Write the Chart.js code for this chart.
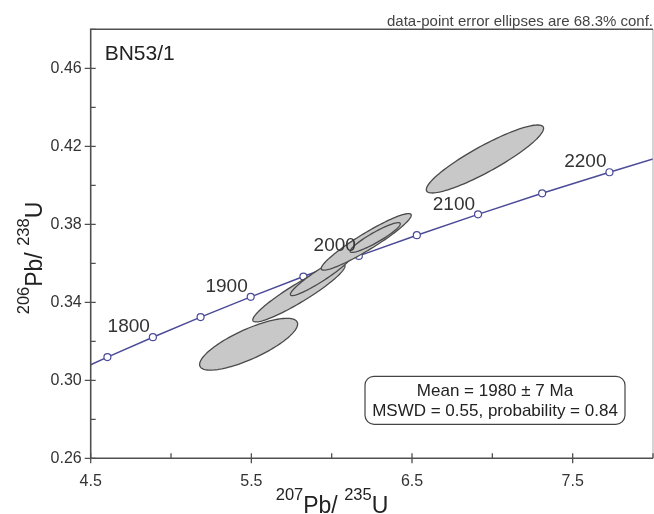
<!DOCTYPE html>
<html>
<head>
<meta charset="utf-8">
<script src="https://cdn.jsdelivr.net/npm/chart.js@4.4.0/dist/chart.umd.min.js"></script>
<style>
  html, body { margin: 0; padding: 0; background: #fff; }
  #wrap { width: 654px; height: 514px; }
</style>
</head>
<body>
<div id="wrap"><canvas id="chart" width="654" height="514"></canvas></div>
<script>
// concordia, marked every 50 Ma (first and last entries are where it leaves the frame)
const concAges = [1731, 1750, 1800, 1850, 1900, 1950, 2000, 2050, 2100, 2150, 2200, 2231];
const concX = [4.500, 4.604, 4.887, 5.184, 5.496, 5.824, 6.169, 6.530, 6.911, 7.310, 7.729, 8.000];
const concY = [0.3080, 0.3119, 0.3221, 0.3324, 0.3428, 0.3532, 0.3638, 0.3744, 0.3851, 0.3959, 0.4067, 0.4135];
const concLabels = [1800, 1900, 2000, 2100, 2200];

// data-point error ellipses: centre, half extent in x / y, error correlation
const ellX = [5.483, 5.796, 5.935, 6.215, 6.271, 6.954];
const ellY = [0.3185, 0.3448, 0.3540, 0.3710, 0.3732, 0.4135];
const ellSX = [0.305, 0.287, 0.192, 0.280, 0.156, 0.365];
const ellSY = [0.01328, 0.01487, 0.01056, 0.01450, 0.00764, 0.01744];
const ellRho = [0.78, 0.93, 0.94, 0.94, 0.92, 0.90];

// axes
const xMin = 4.5, xMax = 8.0, xStep = 0.5;
const yMin = 0.26, yMax = 0.48, yStep = 0.02;

const sampleName = "BN53/1";
const noteText = "data-point error ellipses are 68.3% conf.";
const meanLines = ["Mean = 1980 \u00b1 7 Ma", "MSWD = 0.55, probability = 0.84"];
const xTitle = [["207", true], ["Pb/ ", false], ["235", true], ["U", false]];
const yTitle = [["206", true], ["Pb/ ", false], ["238", true], ["U", false]];

const FONT = "'Liberation Sans', Arial, Helvetica, sans-serif";
const LINE = "#4b4b98";

function isMajor(v, min, step) {
  return Math.round((v - min) / step) % 2 === 0;
}

function drawTitle(ctx, parts, cx, baseY) {
  const mainFont = "23px " + FONT, supFont = "16.5px " + FONT;
  let total = 0;
  parts.forEach(([t, sup]) => {
    ctx.font = sup ? supFont : mainFont;
    total += ctx.measureText(t).width;
  });
  let x = cx - total / 2;
  parts.forEach(([t, sup]) => {
    ctx.font = sup ? supFont : mainFont;
    ctx.fillText(t, x, sup ? baseY - 13 : baseY);
    x += ctx.measureText(t).width;
  });
}

const isoplotPlugin = {
  id: "isoplot",
  afterDatasetsDraw(chart) {
    const { ctx, chartArea: a, scales: { x: xs, y: ys } } = chart;
    ctx.save();
    ctx.beginPath();
    ctx.rect(a.left, a.top, a.right - a.left, a.bottom - a.top);
    ctx.clip();
    ellX.forEach((cx, i) => {
      const s = Math.sqrt(1 - ellRho[i] * ellRho[i]);
      ctx.beginPath();
      for (let k = 0; k <= 120; k++) {
        const t = (k / 120) * Math.PI * 2;
        const px = xs.getPixelForValue(cx + ellSX[i] * Math.cos(t));
        const py = ys.getPixelForValue(ellY[i] + ellSY[i] * (ellRho[i] * Math.cos(t) + s * Math.sin(t)));
        if (k === 0) ctx.moveTo(px, py); else ctx.lineTo(px, py);
      }
      ctx.closePath();
      ctx.fillStyle = "#c8c8c8";
      ctx.fill();
      ctx.strokeStyle = "#4a4a4a";
      ctx.lineWidth = 1.3;
      ctx.stroke();
    });
    ctx.restore();
  },
  afterDraw(chart) {
    const { ctx, chartArea: a, scales: { x: xs, y: ys } } = chart;
    ctx.save();

    // frame
    ctx.strokeStyle = "#aaa";
    ctx.lineWidth = 1;
    ctx.beginPath();
    ctx.moveTo(a.right, a.top);
    ctx.lineTo(a.right, a.bottom);
    ctx.stroke();
    ctx.strokeStyle = "#505050";
    ctx.lineWidth = 1.6;
    ctx.beginPath();
    ctx.moveTo(a.right, a.top);
    ctx.lineTo(a.left, a.top);
    ctx.lineTo(a.left, a.bottom);
    ctx.lineTo(a.right, a.bottom);
    ctx.stroke();

    // tick marks: major ones cross the axis, minor ones point inward
    ctx.lineWidth = 1.3;
    ctx.beginPath();
    xs.ticks.forEach(t => {
      const px = xs.getPixelForValue(t.value);
      const major = isMajor(t.value, xMin, xStep);
      ctx.moveTo(px, a.bottom - 5);
      ctx.lineTo(px, major ? a.bottom + 5 : a.bottom);
    });
    ys.ticks.forEach(t => {
      const py = ys.getPixelForValue(t.value);
      const major = isMajor(t.value, yMin, yStep);
      ctx.moveTo(a.left + 5, py);
      ctx.lineTo(major ? a.left - 6 : a.left, py);
    });
    ctx.stroke();

    // concordia age labels
    ctx.fillStyle = "#333";
    ctx.font = "19px " + FONT;
    ctx.textAlign = "right";
    ctx.textBaseline = "middle";
    concLabels.forEach(age => {
      const i = concAges.indexOf(age);
      const px = xs.getPixelForValue(concX[i]);
      const py = ys.getPixelForValue(concY[i]);
      ctx.fillText(String(age), px - 3, py - 10);
    });

    // note above the frame and sample name
    ctx.textBaseline = "alphabetic";
    ctx.fillStyle = "#444";
    ctx.font = "15px " + FONT;
    ctx.fillText(noteText, a.right, a.top - 3);
    ctx.textAlign = "left";
    ctx.fillStyle = "#222";
    ctx.font = "21px " + FONT;
    ctx.fillText(sampleName, a.left + 14, a.top + 31);

    // mean box
    const bw = 260, bh = 48;
    const bx = a.right - 28 - bw, by = a.bottom - 34 - bh;
    ctx.beginPath();
    ctx.roundRect(bx, by, bw, bh, 9);
    ctx.fillStyle = "#fff";
    ctx.fill();
    ctx.strokeStyle = "#444";
    ctx.lineWidth = 1.2;
    ctx.stroke();
    ctx.fillStyle = "#222";
    ctx.font = "17px " + FONT;
    ctx.textAlign = "center";
    ctx.textBaseline = "middle";
    ctx.fillText(meanLines[0], bx + bw / 2, by + 15);
    ctx.fillText(meanLines[1], bx + bw / 2, by + 35);

    // axis titles with superscripts
    ctx.textAlign = "left";
    ctx.textBaseline = "alphabetic";
    ctx.fillStyle = "#222";
    drawTitle(ctx, xTitle, 332, 513);
    ctx.translate(42, 258);
    ctx.rotate(-Math.PI / 2);
    drawTitle(ctx, yTitle, 0, 0);
    ctx.restore();
  }
};

const tickFont = { family: FONT, size: 16 };

new Chart(document.getElementById("chart"), {
  type: "scatter",
  data: {
    datasets: [{
      data: concX.map((x, i) => ({ x: x, y: concY[i] })),
      showLine: true,
      borderColor: LINE,
      borderWidth: 1.5,
      pointRadius: concAges.map(a => (a % 50 === 0 ? 3.5 : 0)),
      pointBackgroundColor: "#fff",
      pointBorderColor: LINE,
      pointBorderWidth: 1.2,
      tension: 0,
    }],
  },
  options: {
    responsive: false,
    animation: false,
    layout: { autoPadding: false, padding: { left: 0, top: 29.3, right: 1, bottom: 0 } },
    plugins: { legend: { display: false }, tooltip: { enabled: false } },
    scales: {
      x: {
        type: "linear",
        min: xMin,
        max: xMax,
        grid: { display: false, drawTicks: false },
        border: { display: false },
        ticks: {
          stepSize: xStep,
          autoSkip: false,
          maxRotation: 0,
          padding: 14,
          color: "#333",
          font: tickFont,
          callback: v => (isMajor(v, xMin, xStep) && v < xMax - 0.01 ? v.toFixed(1) : ""),
        },
        afterFit: s => { s.height = 55.7; s.paddingLeft = 0; s.paddingRight = 0; },
      },
      y: {
        type: "linear",
        min: yMin,
        max: yMax,
        grid: { display: false, drawTicks: false },
        border: { display: false },
        ticks: {
          stepSize: yStep,
          autoSkip: false,
          padding: 9,
          color: "#333",
          font: tickFont,
          callback: v => (isMajor(v, yMin, yStep) && v < yMax - 0.001 ? v.toFixed(2) : ""),
        },
        afterFit: s => { s.width = 90.7; s.paddingTop = 0; s.paddingBottom = 0; },
      },
    },
  },
  plugins: [isoplotPlugin],
});
</script>
</body>
</html>
